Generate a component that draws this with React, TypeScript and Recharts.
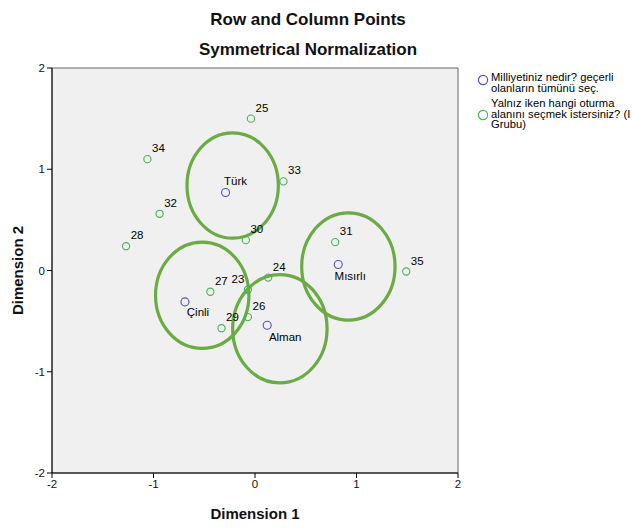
import React from 'react';
import { ScatterChart, Scatter, XAxis, YAxis, ReferenceArea, Legend } from 'recharts';

// Row points (Milliyet)
const rowNames = ['Türk', 'Mısırlı', 'Çinli', 'Alman'];
const rowX = [-0.29, 0.82, -0.69, 0.12];
const rowY = [0.77, 0.06, -0.31, -0.54];

// Column points (Oturma alanı)
const colNames = ['25', '34', '33', '32', '30', '28', '31', '35', '24', '27', '23', '29', '26'];
const colX = [-0.04, -1.06, 0.28, -0.94, -0.09, -1.27, 0.79, 1.49, 0.13, -0.44, -0.07, -0.33, -0.07];
const colY = [1.5, 1.1, 0.88, 0.56, 0.3, 0.24, 0.28, -0.01, -0.07, -0.21, -0.19, -0.57, -0.46];

// Ellipse annotations (bounding boxes in data units)
const ellipseNames = ['Türk', 'Çinli', 'Alman', 'Mısırlı'];
const ellipseX1 = [-0.67, -0.98, -0.22, 0.46];
const ellipseX2 = [0.23, -0.06, 0.71, 1.38];
const ellipseY1 = [0.32, -0.77, -1.11, -0.49];
const ellipseY2 = [1.36, 0.28, -0.04, 0.57];

const axisTicks = [-2, -1, 0, 1, 2];

const legendRow = ['Milliyetiniz nedir? geçerli', 'olanların tümünü seç.'];
const legendCol = ['Yalnız iken hangi oturma', 'alanını seçmek istersiniz? (I', 'Grubu)'];

const rowData = rowNames.map((n, i) => ({ name: n, x: rowX[i], y: rowY[i] }));
const colData = colNames.map((n, i) => ({ name: n, x: colX[i], y: colY[i] }));

const FONT = 'Arial, "Liberation Sans", Helvetica, sans-serif';
const BLUE = '#5050bd';
const GREEN = '#45b456';
const ELLIPSE = '#6aab44';

const labelOffset: Record<string, [number, number]> = {
  'Türk': [10, -8],
  'Mısırlı': [12, 16],
  'Çinli': [13, 14],
  'Alman': [18, 16],
};

const RowShape = (props: any) => {
  const { cx, cy, payload } = props;
  const off = labelOffset[payload.name] || [10, -8];
  return (
    <g>
      <circle cx={cx} cy={cy} r={4} fill="none" stroke={BLUE} strokeWidth={1.1} />
      <text x={cx + off[0]} y={cy + off[1]} textAnchor="middle" fontSize={11.5} fontFamily={FONT} fill="#000">
        {payload.name}
      </text>
    </g>
  );
};

const ColShape = (props: any) => {
  const { cx, cy, payload } = props;
  const left = payload.name === '23';
  const dx = left ? -10 : 11;
  return (
    <g>
      <circle cx={cx} cy={cy} r={3.6} fill="none" stroke={GREEN} strokeWidth={1.1} />
      <text x={cx + dx} y={cy - 7} textAnchor="middle" fontSize={11.5} fontFamily={FONT} fill="#000">
        {payload.name}
      </text>
    </g>
  );
};

const EllipseShape = (props: any) => {
  const { x, y, width, height } = props;
  return (
    <ellipse
      cx={x + width / 2}
      cy={y + height / 2}
      rx={Math.abs(width) / 2}
      ry={Math.abs(height) / 2}
      fill="none"
      stroke={ELLIPSE}
      strokeWidth={3.2}
    />
  );
};

const LegendContent = () => (
  <div style={{ fontFamily: FONT, fontSize: 11.2, letterSpacing: 0.05, lineHeight: '10.5px', color: '#000', whiteSpace: 'nowrap', width: 152 }}>
    <div style={{ position: 'relative', paddingLeft: 14, height: 22 }}>
      <svg width={12} height={12} style={{ position: 'absolute', left: 0, top: 2 }}>
        <circle cx={6} cy={6} r={4.6} fill="none" stroke={BLUE} strokeWidth={1.2} />
      </svg>
      {legendRow.map((t) => (
        <div key={t}>{t}</div>
      ))}
    </div>
    <div style={{ position: 'relative', paddingLeft: 14, marginTop: 4 }}>
      <svg width={12} height={12} style={{ position: 'absolute', left: 0, top: 11 }}>
        <circle cx={6} cy={6} r={4.6} fill="none" stroke={GREEN} strokeWidth={1.2} />
      </svg>
      {legendCol.map((t) => (
        <div key={t}>{t}</div>
      ))}
    </div>
  </div>
);

export default function App() {
  return (
    <div style={{ position: 'absolute', left: 0, top: 0, width: 632, height: 530, overflow: 'hidden', background: '#fff', fontFamily: FONT }}>
      <div style={{ position: 'absolute', left: 158, top: 10, width: 300, textAlign: 'center', fontSize: 17, fontWeight: 'bold', color: '#111' }}>
        Row and Column Points
      </div>
      <div style={{ position: 'absolute', left: 158, top: 40, width: 300, textAlign: 'center', fontSize: 17, fontWeight: 'bold', color: '#111' }}>
        Symmetrical Normalization
      </div>
      <ScatterChart width={632} height={530} margin={{ top: 68, right: 174, bottom: 27, left: 12 }}>
        <ReferenceArea x1={-2} x2={2} y1={-2} y2={2} fill="#f0f0f0" fillOpacity={1} stroke="#666" strokeWidth={1} />
        <XAxis
          type="number"
          dataKey="x"
          domain={[-2, 2]}
          ticks={axisTicks}
          allowDataOverflow
          height={30}
          stroke="#000"
          tickSize={5}
          tick={{ fontSize: 11.5, fill: '#111', fontFamily: FONT }}
          label={{ value: 'Dimension 1', position: 'bottom', offset: 5, style: { fontSize: 15, fontWeight: 'bold', fill: '#111', fontFamily: FONT } }}
        />
        <YAxis
          type="number"
          dataKey="y"
          domain={[-2, 2]}
          ticks={axisTicks}
          allowDataOverflow
          width={40}
          stroke="#000"
          tickSize={5}
          tick={{ fontSize: 11.5, fill: '#111', fontFamily: FONT }}
          label={{
            content: (p: any) => {
              const vb = p.viewBox || { x: 12, y: 68, width: 40, height: 405 };
              const cx = 17;
              const cy = vb.y + vb.height / 2;
              return (
                <text x={cx} y={cy} transform={`rotate(-90 ${cx} ${cy})`} textAnchor="middle" dominantBaseline="central" fontSize={15} fontWeight="bold" fill="#111" fontFamily={FONT}>
                  Dimension 2
                </text>
              );
            },
          }}
        />
        <Scatter name="row" data={rowData} shape={RowShape} isAnimationActive={false} />
        <Scatter name="col" data={colData} shape={ColShape} isAnimationActive={false} />
        {ellipseNames.map((n, i) => (
          <ReferenceArea key={n} x1={ellipseX1[i]} x2={ellipseX2[i]} y1={ellipseY1[i]} y2={ellipseY2[i]} shape={EllipseShape} />
        ))}
        <Legend
          layout="horizontal"
          align="center"
          verticalAlign="middle"
          content={LegendContent}
          wrapperStyle={{ position: 'absolute', left: 477, top: 72, width: 152 }}
        />
      </ScatterChart>
    </div>
  );
}
